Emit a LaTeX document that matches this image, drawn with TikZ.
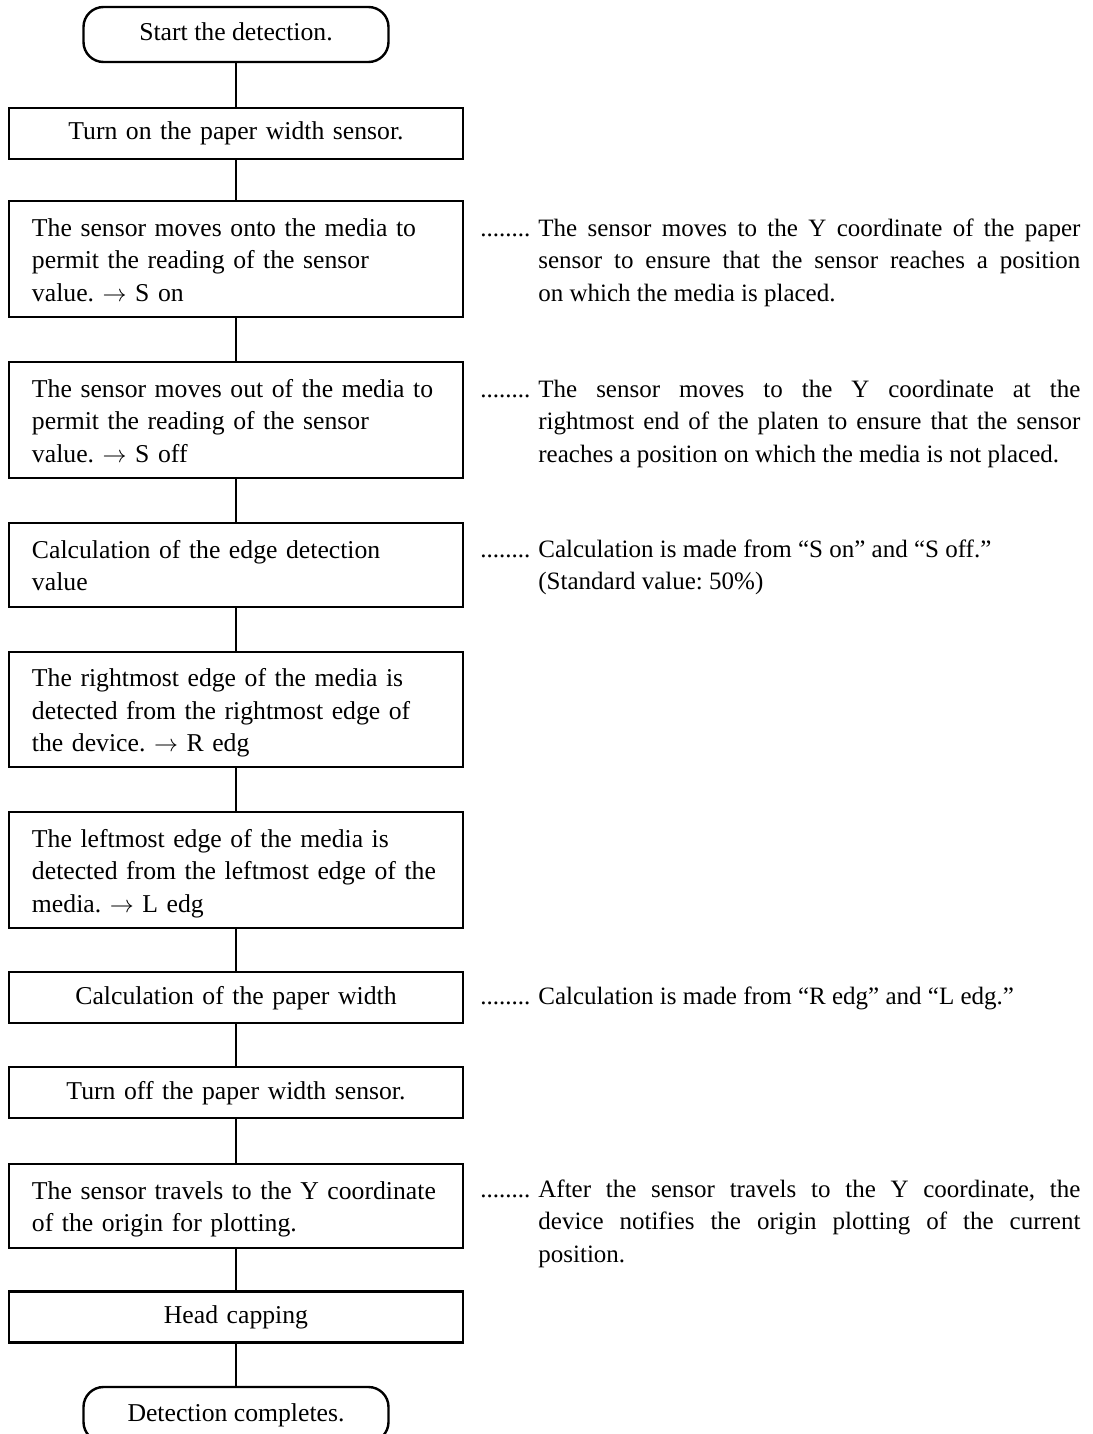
\documentclass[tikz,border=0pt]{standalone}
\usepackage{fontspec}
\setmainfont{Liberation Serif}
\newcommand{\topstrut}{\rule{0pt}{12.875pt}}
\newcommand{\botstrut}{\rule[-3.375pt]{0pt}{3.375pt}}
\newcommand{\dotlead}{\llap{........\kern4pt}}
\newcommand{\arr}{$\rightarrow$}
\tolerance=10000
\hyphenpenalty=10000
\frenchspacing
\begin{document}
\begin{tikzpicture}[x=0.5pt,y=-0.5pt,
  every node/.style={font=\fontsize{12.85pt}{16.25pt}\selectfont},
  boxbase/.style={draw, line width=1.2pt, minimum width=227pt, inner xsep=11.5pt, inner ysep=0pt, text width=204pt},
  procl/.style={boxbase, align=left, execute at begin node=\topstrut, execute at end node=\botstrut},
  procc/.style={boxbase, align=center, minimum height=25.5pt, execute at begin node=\strut, execute at end node=\strut},
  term/.style={draw, line width=1.2pt, rounded corners=10pt, minimum width=152.5pt, minimum height=27.5pt, inner sep=0pt, align=center, execute at begin node=\strut, execute at end node=\strut},
  note/.style={anchor=base west, inner sep=0pt, text width=271pt, align=justify, font=\fontsize{12.5pt}{16.25pt}\selectfont},
  conn/.style={line width=1.2pt}]
\clip (0,0) rectangle (1092,1434);

\node[term] (s) at (236,34.5) {Start the detection.};
\node[procc] (b1) at (236,133.5) {Turn on the paper width sensor.};
\node[procl, minimum height=58pt] (b2) at (236,259) {The sensor moves onto the media to\\ permit the reading of the sensor\\ value. \arr{} S on};
\node[procl, minimum height=58pt] (b3) at (236,420) {The sensor moves out of the media to\\ permit the reading of the sensor\\ value. \arr{} S off};
\node[procl, minimum height=42pt] (b4) at (236,565) {Calculation of the edge detection\\ value};
\node[procl, minimum height=57.5pt] (b5) at (236,709.5) {The rightmost edge of the media is\\ detected from the rightmost edge of\\ the device. \arr{} R edg};
\node[procl, minimum height=58pt] (b6) at (236,870) {The leftmost edge of the media is\\ detected from the leftmost edge of the\\ media. \arr{} L edg};
\node[procc] (b7) at (236,997.5) {Calculation of the paper width};
\node[procc] (b8) at (236,1092.5) {Turn off the paper width sensor.};
\node[procl, minimum height=42pt] (b9) at (236,1206) {The sensor travels to the Y coordinate\\ of the origin for plotting.};
\node[procc] (b10) at (236,1317) {Head capping};
\node[term] (e) at (236,1414.5) {Detection completes.};

\draw[conn] (s) -- (b1);
\draw[conn] (b1) -- (b2);
\draw[conn] (b2) -- (b3);
\draw[conn] (b3) -- (b4);
\draw[conn] (b4) -- (b5);
\draw[conn] (b5) -- (b6);
\draw[conn] (b6) -- (b7);
\draw[conn] (b7) -- (b8);
\draw[conn] (b8) -- (b9);
\draw[conn] (b9) -- (b10);
\draw[conn] (b10) -- (e);

\node[note] (n2) at (538,236) {\dotlead The sensor moves to the Y coordinate of the paper\linebreak sensor to ensure that the sensor reaches a position\linebreak on which the media is placed.};
\node[note] (n3) at (538,397) {\dotlead The sensor moves to the Y coordinate at the\linebreak rightmost end of the platen to ensure that the sensor\linebreak reaches a position on which the media is not placed.};
\node[note] (n4) at (538,557) {\dotlead Calculation is made from “S on” and “S off.”\newline (Standard value: 50\%)};
\node[note] (n7) at (538,1004) {\dotlead Calculation is made from “R edg” and “L edg.”};
\node[note] (n9) at (538,1197) {\dotlead After the sensor travels to the Y coordinate, the\linebreak device notifies the origin plotting of the current\linebreak position.};
\end{tikzpicture}
\end{document}
